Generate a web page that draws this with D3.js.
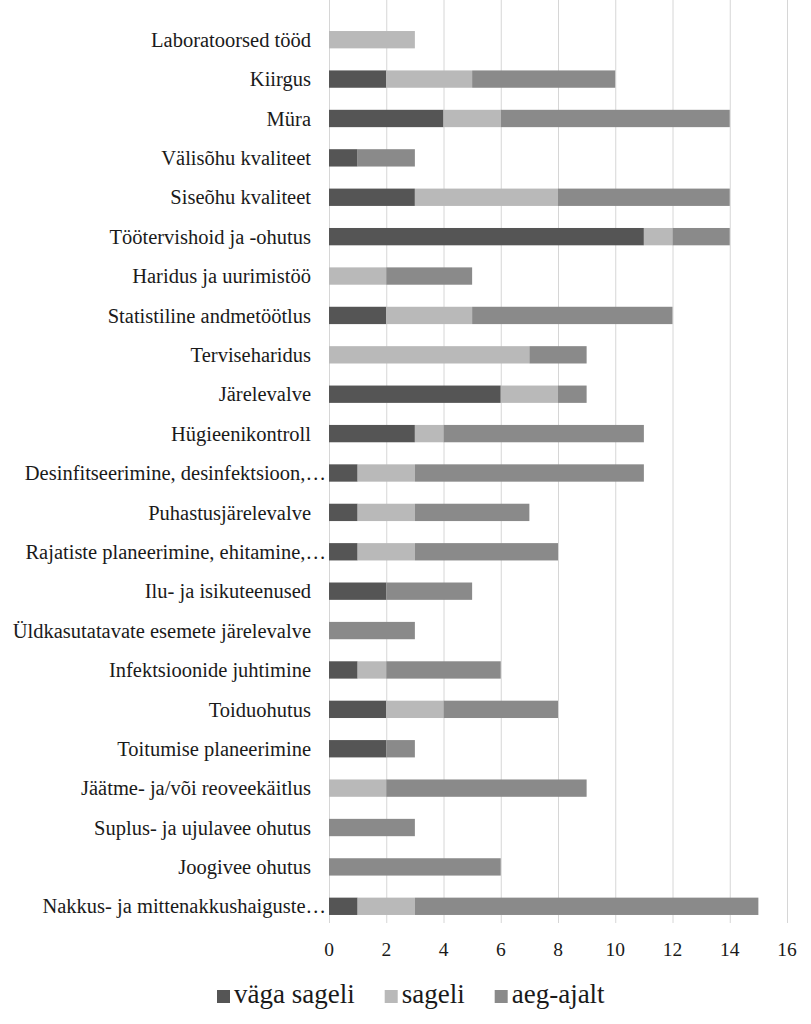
<!DOCTYPE html>
<html><head>
<meta charset="utf-8">
<script src="https://d3js.org/d3.v7.min.js"></script>
<style>
  body { margin: 0; background: #fff; }
  .gridlines line { stroke: #d6d6d6; }
  .gridlines .domain { stroke: none; }
</style>
</head>
<body>
<svg id="chart" width="811" height="1024"></svg>
<script>
// categories top to bottom
const categories = [
  "Laboratoorsed tööd", "Kiirgus", "Müra", "Välisõhu kvaliteet", "Siseõhu kvaliteet",
  "Töötervishoid ja -ohutus", "Haridus ja uurimistöö", "Statistiline andmetöötlus",
  "Terviseharidus", "Järelevalve", "Hügieenikontroll", "Desinfitseerimine, desinfektsioon,…",
  "Puhastusjärelevalve", "Rajatiste planeerimine, ehitamine,…", "Ilu- ja isikuteenused",
  "Üldkasutatavate esemete järelevalve", "Infektsioonide juhtimine", "Toiduohutus",
  "Toitumise planeerimine", "Jäätme- ja/või reoveekäitlus", "Suplus- ja ujulavee ohutus",
  "Joogivee ohutus", "Nakkus- ja mittenakkushaiguste…"
];
const seriesNames = ["väga sageli", "sageli", "aeg-ajalt"];
const vagaSageli = [0, 2, 4, 1, 3, 11, 0, 2, 0, 6, 3, 1, 1, 1, 2, 0, 1, 2, 2, 0, 0, 0, 1];
const sageli     = [3, 3, 2, 0, 5, 1, 2, 3, 7, 2, 1, 2, 2, 2, 0, 0, 1, 2, 0, 2, 0, 0, 2];
const aegAjalt   = [0, 5, 8, 2, 6, 2, 3, 7, 2, 1, 7, 8, 4, 5, 3, 3, 4, 4, 1, 7, 3, 6, 12];
const xTicks = [0, 2, 4, 6, 8, 10, 12, 14, 16];
const colors = ["#555555", "#b9b9b9", "#8a8a8a"];

const FONT = "Liberation Serif";

const svg = d3.select("#chart");
const margin = {top: 20, left: 329, right: 24, bottom: 98};
const chartWidth = 811 - margin.left - margin.right;
const chartHeight = 1024 - margin.top - margin.bottom;

const rows = categories.map((c, i) => ({cat: c, 0: vagaSageli[i], 1: sageli[i], 2: aegAjalt[i]}));
const stacked = d3.stack().keys([0, 1, 2])(rows);

const x = d3.scaleLinear().domain([0, 16]).range([0, chartWidth]);
const y = d3.scaleBand().domain(categories).range([0, chartHeight]).paddingInner(0.56).paddingOuter(0.28);

const g = svg.append("g").attr("transform", "translate(" + margin.left + "," + margin.top + ")");

// gridlines (from the top of the picture down to just below the last bar)
g.append("g")
  .attr("class", "gridlines")
  .attr("transform", "translate(0," + (chartHeight - 3) + ")")
  .call(d3.axisBottom(x).tickValues(xTicks).tickSize(-(chartHeight + 17)).tickFormat(""));

// bars
g.selectAll("g.series")
  .data(stacked)
  .join("g")
  .attr("class", "series")
  .attr("fill", (d, i) => colors[i])
  .selectAll("rect")
  .data(d => d.map(v => ({v: v, cat: v.data.cat})))
  .join("rect")
  .attr("x", d => x(d.v[0]))
  .attr("y", d => y(d.cat))
  .attr("width", d => x(d.v[1]) - x(d.v[0]))
  .attr("height", y.bandwidth());

// category labels; truncated ones (with …) run right up to the axis
g.selectAll("text.cat")
  .data(categories)
  .join("text")
  .attr("class", "cat")
  .attr("x", d => d.endsWith("…") ? -3 : -18)
  .attr("y", d => y(d) + y.bandwidth() / 2)
  .attr("dy", "0.35em")
  .attr("text-anchor", "end")
  .attr("font-family", FONT)
  .attr("font-size", 20.5)
  .attr("fill", "#1a1a1a")
  .text(d => d);

// tick labels
g.selectAll("text.tick")
  .data(xTicks)
  .join("text")
  .attr("class", "tick")
  .attr("x", d => x(d))
  .attr("y", chartHeight + 30)
  .attr("text-anchor", "middle")
  .attr("font-family", FONT)
  .attr("font-size", 19.5)
  .attr("fill", "#1a1a1a")
  .text(d => d);

// legend
const legend = svg.append("g").attr("transform", "translate(217,1003)");
let lx = 0;
seriesNames.forEach((name, i) => {
  const item = legend.append("g").attr("transform", "translate(" + lx + ",0)");
  item.append("rect").attr("x", 0).attr("y", -13).attr("width", 13).attr("height", 13).attr("fill", colors[i]);
  const t = item.append("text")
    .attr("x", 17)
    .attr("font-family", FONT)
    .attr("font-size", 27)
    .attr("fill", "#1a1a1a")
    .text(name);
  lx += 17 + t.node().getComputedTextLength() + 30;
});
</script>
</body></html>
